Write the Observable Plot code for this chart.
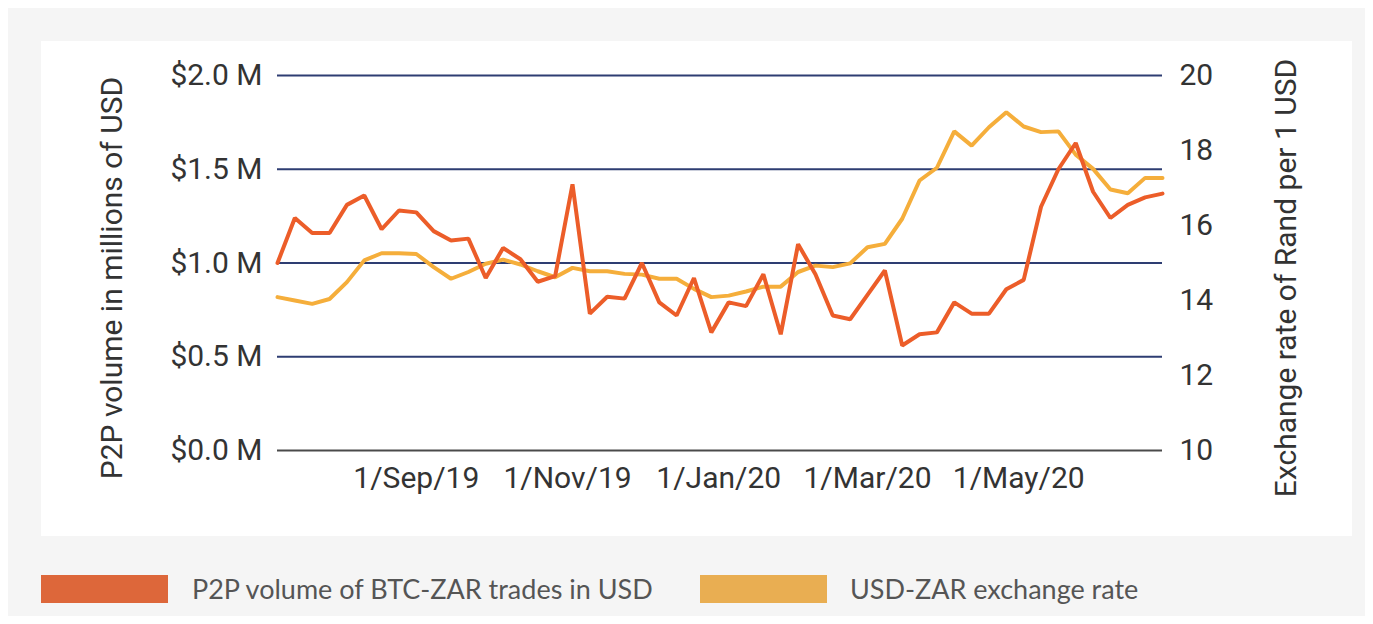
<!DOCTYPE html>
<html>
<head>
<meta charset="utf-8">
<script src="https://cdn.jsdelivr.net/npm/d3@7"></script>
<script src="https://cdn.jsdelivr.net/npm/@observablehq/plot@0.6"></script>
<style>
  body { margin: 0; background: #fff; width: 1373px; height: 624px; overflow: hidden; position: relative; }
  #outer { position: absolute; left: 8px; top: 8px; width: 1357px; height: 608px; background: #f5f5f5; }
  #panel { position: absolute; left: 41px; top: 41px; width: 1311px; height: 495px; background: #fff; }
  #chart { position: absolute; left: 41px; top: 41px; }
  .swatch { position: absolute; top: 575px; width: 127px; height: 28px; }
  .ltext { position: absolute; top: 572px; font-family: Lato, sans-serif; font-size: 27px; color: #555; line-height: 34px; white-space: nowrap; }
</style>
</head>
<body>
<div id="outer"></div>
<div id="panel"></div>
<div id="chart"></div>
<div class="swatch" style="left:41px;background:#dd673a"></div>
<div class="ltext" style="left:192px">P2P volume of BTC-ZAR trades in USD</div>
<div class="swatch" style="left:700px;background:#e9ae52"></div>
<div class="ltext" style="left:850px">USD-ZAR exchange rate</div>
<script>
const dates = [
  "2019-07-07","2019-07-14","2019-07-21","2019-07-28","2019-08-04","2019-08-11","2019-08-18","2019-08-25",
  "2019-09-01","2019-09-08","2019-09-15","2019-09-22","2019-09-29","2019-10-06","2019-10-13","2019-10-20",
  "2019-10-27","2019-11-03","2019-11-10","2019-11-17","2019-11-24","2019-12-01","2019-12-08","2019-12-15",
  "2019-12-22","2019-12-29","2020-01-05","2020-01-12","2020-01-19","2020-01-26","2020-02-02","2020-02-09",
  "2020-02-16","2020-02-23","2020-03-01","2020-03-08","2020-03-15","2020-03-22","2020-03-29","2020-04-05",
  "2020-04-12","2020-04-19","2020-04-26","2020-05-03","2020-05-10","2020-05-17","2020-05-24","2020-05-31",
  "2020-06-07","2020-06-14","2020-06-21","2020-06-28"
];
// P2P volume of BTC-ZAR trades, millions of USD
const volume = [
  1.00, 1.24, 1.16, 1.16, 1.31, 1.36, 1.18, 1.28, 1.27, 1.17, 1.12, 1.13, 0.92, 1.08, 1.02, 0.90,
  0.93, 1.42, 0.73, 0.82, 0.81, 1.00, 0.79, 0.72, 0.92, 0.63, 0.79, 0.77, 0.94, 0.62, 1.10, 0.94,
  0.72, 0.70, 0.83, 0.96, 0.56, 0.62, 0.63, 0.79, 0.73, 0.73, 0.86, 0.91, 1.30, 1.50, 1.64, 1.38,
  1.24, 1.31, 1.35, 1.37
];
// USD-ZAR exchange rate (Rand per 1 USD)
const rate = [
  14.09, 14.00, 13.91, 14.04, 14.49, 15.07, 15.26, 15.26, 15.24, 14.89, 14.58, 14.76, 14.98, 15.09, 14.96, 14.78,
  14.62, 14.87, 14.78, 14.78, 14.71, 14.69, 14.58, 14.58, 14.31, 14.09, 14.13, 14.24, 14.37, 14.37, 14.76, 14.93,
  14.89, 14.99, 15.42, 15.51, 16.18, 17.20, 17.54, 18.51, 18.13, 18.62, 19.02, 18.64, 18.49, 18.51, 17.89, 17.51,
  16.96, 16.86, 17.27, 17.27
];
const volumeTicks = [0, 0.5, 1.0, 1.5, 2.0];
const volumeTickLabels = ["$0.0 M", "$0.5 M", "$1.0 M", "$1.5 M", "$2.0 M"];
const rateTicks = [10, 12, 14, 16, 18, 20];
const xTickDates = ["2019-09-01", "2019-11-01", "2020-01-01", "2020-03-01", "2020-05-01"];
const xTickLabels = ["1/Sep/19", "1/Nov/19", "1/Jan/20", "1/Mar/20", "1/May/20"];
const leftTitle = "P2P volume in millions of USD";
const rightTitle = "Exchange rate of Rand per 1 USD";

// rate axis shares the frame with the volume axis: 10..20 <-> 0..2
const rateDomain = [10, 20];
const volDomain = [0, 2];
const toVol = r => volDomain[0] + (r - rateDomain[0]) / (rateDomain[1] - rateDomain[0]) * (volDomain[1] - volDomain[0]);
const toRate = v => rateDomain[0] + (v - volDomain[0]) / (volDomain[1] - volDomain[0]) * (rateDomain[1] - rateDomain[0]);

const rows = dates.map((d, i) => ({date: new Date(d), volume: volume[i], rate: rate[i]}));
const tickDates = xTickDates.map(d => new Date(d));

const plot = Plot.plot({
  width: 1311,
  height: 495,
  marginLeft: 236,
  marginRight: 190,
  marginTop: 34,
  marginBottom: 86,
  style: {fontFamily: "Roboto, sans-serif", fontSize: "30px", color: "#333", background: "transparent", overflow: "visible"},
  x: {type: "utc", domain: [rows[0].date, rows[rows.length - 1].date]},
  y: {domain: volDomain},
  marks: [
    Plot.ruleY(volumeTicks.filter(d => d > 0), {stroke: "#2e3d72", strokeWidth: 2}),
    Plot.ruleY([0], {stroke: "#4a4a4a", strokeWidth: 2}),
    Plot.axisY(volumeTicks, {anchor: "left", tickSize: 0, tickPadding: 15, tickFormat: (d, i) => volumeTickLabels[i], label: null, fill: "#333"}),
    Plot.axisY(rateTicks.map(toVol), {anchor: "right", tickSize: 0, tickPadding: 17, tickFormat: d => String(Math.round(toRate(d))), label: null, fill: "#333"}),
    Plot.axisX(tickDates, {anchor: "bottom", tickSize: 0, tickPadding: 16, tickFormat: (d, i) => xTickLabels[i], label: null, fill: "#333"}),
    Plot.text([leftTitle], {frameAnchor: "left", textAnchor: "middle", rotate: -90, dx: -165, dy: 15, fill: "#333", fontSize: 30}),
    Plot.text([rightTitle], {frameAnchor: "right", textAnchor: "middle", rotate: -90, dx: 124, dy: 15, fill: "#333", fontSize: 30}),
    Plot.line(rows, {x: "date", y: d => toVol(d.rate), stroke: "#f5ae3b", strokeWidth: 4, strokeLinejoin: "miter"}),
    Plot.line(rows, {x: "date", y: "volume", stroke: "#ec5d29", strokeWidth: 4, strokeLinejoin: "miter"})
  ]
});
document.getElementById("chart").appendChild(plot);
</script>
</body>
</html>
